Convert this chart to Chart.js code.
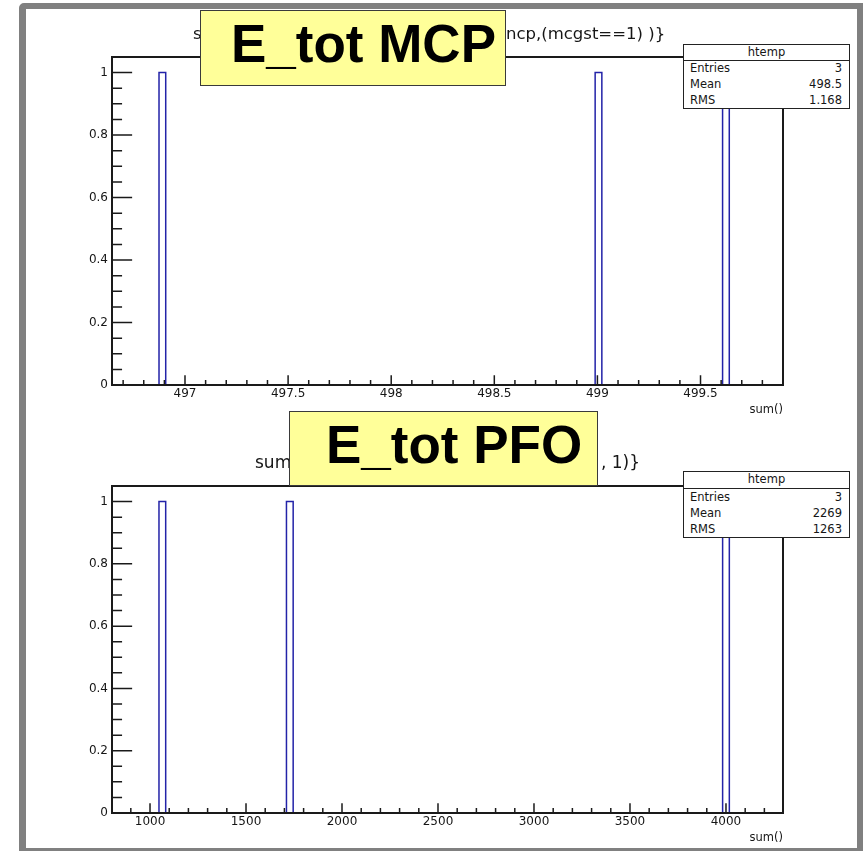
<!DOCTYPE html>
<html>
<head>
<meta charset="utf-8">
<script src="https://cdn.jsdelivr.net/npm/chart.js@4.4.1/dist/chart.umd.min.js"></script>
<style>
html,body{margin:0;padding:0;background:#fff;}
#page{position:relative;width:863px;height:851px;overflow:hidden;background:#fff;}
#border{position:absolute;left:19px;top:3px;width:844px;height:848px;box-sizing:border-box;
  border-style:solid;border-color:#808080;border-width:6px 6px 3px 7px;border-radius:5px 0 0 0;background:#fff;}
canvas{position:absolute;left:0;}
.t{position:absolute;white-space:nowrap;font-family:"DejaVu Sans",sans-serif;color:#161616;}
.stat{position:absolute;box-sizing:border-box;border:1.5px solid #222;background:#fff;
  font-family:"DejaVu Sans",sans-serif;font-size:11.5px;color:#161616;}
.stat .hd{position:absolute;left:0;right:0;top:0;text-align:center;border-bottom:1.5px solid #222;}
.stat .row{position:absolute;left:6px;right:7px;}
.stat .row span{position:absolute;}
.stat .row .v{right:0;}
.yellow{position:absolute;box-sizing:border-box;border:1px solid #3a3a3a;background:#ffff99;}
.yellow span{position:absolute;font-family:"Liberation Sans",Arial,sans-serif;font-weight:bold;
  font-size:53px;line-height:53px;color:#000;white-space:nowrap;}
</style>
</head>
<body>
<div id="page">
  <div id="border"></div>
  <canvas id="c1" width="863" height="425" style="top:0px"></canvas>
  <canvas id="c2" width="863" height="426" style="top:425px"></canvas>
</div>
<script>
// ---------- data ----------
const mcpBinLow = [496.874, 498.989, 499.607];
const mcpCounts = [1, 1, 1];
const mcpBinWidth = 0.0325;
const mcpXRange = [496.646, 499.90];
const mcpXTicks = [497, 497.5, 498, 498.5, 499, 499.5];
const mcpXTickLabels = ['497', '497.5', '498', '498.5', '499', '499.5'];
const mcpXMinorStep = 0.1;

const pfoBinLow = [1046.7, 1710.7, 3982.5];
const pfoCounts = [1, 1, 1];
const pfoBinWidth = 34.95;
const pfoXRange = [802, 4297];
const pfoXTicks = [1000, 1500, 2000, 2500, 3000, 3500, 4000];
const pfoXTickLabels = ['1000', '1500', '2000', '2500', '3000', '3500', '4000'];
const pfoXMinorStep = 100;

const yRange = [0, 1.05];
const yTicks = [0, 0.2, 0.4, 0.6, 0.8, 1];
const yTickLabels = ['0', '0.2', '0.4', '0.6', '0.8', '1'];
const yMinorStep = 0.05;

const statLabels = ['Entries', 'Mean', 'RMS'];
const mcpStatValues = ['3', '498.5', '1.168'];
const pfoStatValues = ['3', '2269', '1263'];
const statName = 'htemp';
const xAxisTitle = 'sum()';
const mcpTitleLeft = 's';
const mcpTitleRight = 'ncp,(mcgst==1) )}';
const pfoTitleLeft = 'sum';
const pfoTitleRight = ', 1)}';
const mcpLabel = 'E_tot MCP';
const pfoLabel = 'E_tot PFO';

// ---------- helpers ----------
function histPoints(lows, w, counts) {
  const pts = [];
  lows.forEach((x0, i) => {
    pts.push({x: x0, y: 0}, {x: x0, y: counts[i]}, {x: x0 + w, y: counts[i]}, {x: x0 + w, y: 0});
    pts.push({x: x0 + w, y: null});
  });
  return pts;
}

const framePlugin = {
  id: 'rootFrame',
  afterDraw(chart, args, opts) {
    const ctx = chart.ctx, a = chart.chartArea;
    const xs = chart.scales.x, ys = chart.scales.y;
    const W = a.right - a.left, H = a.bottom - a.top;
    ctx.save();
    ctx.strokeStyle = '#1a1a1a';
    ctx.lineWidth = 1.5;
    ctx.beginPath();
    const xL = 0.03 * H, yL = 0.03 * W;
    xs.ticks.forEach(t => {
      const p = xs.getPixelForValue(t.value);
      ctx.moveTo(p, a.bottom); ctx.lineTo(p, a.bottom - xL);
    });
    const xStep = opts.xMinor;
    for (let k = Math.ceil(xs.min / xStep); k * xStep <= xs.max; k++) {
      const p = xs.getPixelForValue(k * xStep);
      ctx.moveTo(p, a.bottom); ctx.lineTo(p, a.bottom - xL / 2);
    }
    ys.ticks.forEach(t => {
      const p = ys.getPixelForValue(t.value);
      ctx.moveTo(a.left, p); ctx.lineTo(a.left + yL, p);
    });
    const yStep = opts.yMinor;
    for (let k = Math.ceil(ys.min / yStep); k * yStep <= ys.max + 1e-9; k++) {
      const p = ys.getPixelForValue(k * yStep);
      ctx.moveTo(a.left, p); ctx.lineTo(a.left + yL / 2, p);
    }
    ctx.stroke();
    ctx.lineWidth = 2;
    ctx.strokeRect(a.left, a.top, W, H);
    ctx.restore();
  }
};

function makeChart(id, lows, w, counts, xRange, xTicks, xLabels, xMinor, padTop, padBottom) {
  const tickFont = {family: 'DejaVu Sans', size: 12};
  return new Chart(document.getElementById(id), {
    type: 'line',
    data: {
      datasets: [{
        data: histPoints(lows, w, counts),
        borderColor: '#2323a8',
        borderWidth: 1.5,
        pointRadius: 0,
        fill: false,
        tension: 0,
        spanGaps: false
      }]
    },
    options: {
      responsive: false,
      animation: false,
      devicePixelRatio: 1,
      layout: {padding: {left: 62, right: 80, top: padTop, bottom: padBottom}},
      plugins: {legend: {display: false}, tooltip: {enabled: false},
                rootFrame: {xMinor: xMinor, yMinor: yMinorStep}},
      scales: {
        x: {
          type: 'linear', min: xRange[0], max: xRange[1],
          grid: {display: false, drawTicks: false},
          border: {display: false},
          afterBuildTicks: s => { s.ticks = xTicks.map(v => ({value: v})); },
          afterFit: s => { s.height = 25; s.paddingLeft = 0; s.paddingRight = 0; s.paddingTop = 0; s.paddingBottom = 0; },
          ticks: {font: tickFont, color: '#161616', padding: 2, maxRotation: 0, autoSkip: false,
                  callback: (v, i) => xLabels[i]}
        },
        y: {
          type: 'linear', min: yRange[0], max: yRange[1],
          grid: {display: false, drawTicks: false},
          border: {display: false},
          afterBuildTicks: s => { s.ticks = yTicks.map(v => ({value: v})); },
          afterFit: s => { s.width = 50; s.paddingLeft = 0; s.paddingRight = 0; s.paddingTop = 0; s.paddingBottom = 0; },
          ticks: {font: tickFont, color: '#161616', padding: 4, autoSkip: false,
                  callback: (v, i) => yTickLabels[i]}
        }
      }
    },
    plugins: [framePlugin]
  });
}

makeChart('c1', mcpBinLow, mcpBinWidth, mcpCounts, mcpXRange, mcpXTicks, mcpXTickLabels, mcpXMinorStep, 57, 15);
makeChart('c2', pfoBinLow, pfoBinWidth, pfoCounts, pfoXRange, pfoXTicks, pfoXTickLabels, pfoXMinorStep, 61, 13);

// ---------- overlays (text) ----------
const page = document.getElementById('page');
function addText(txt, left, top, size, extra) {
  const d = document.createElement('div');
  d.className = 't';
  d.textContent = txt;
  d.style.left = left + 'px';
  d.style.top = top + 'px';
  d.style.fontSize = size + 'px';
  d.style.lineHeight = size + 'px';
  if (extra) Object.assign(d.style, extra);
  page.appendChild(d);
  return d;
}
// titles
addText(mcpTitleLeft, 193, 26, 16.5);
addText(mcpTitleRight, 506, 26, 16.5);
addText(pfoTitleLeft, 255, 454, 17);
addText(pfoTitleRight, 601, 454, 17);
// axis titles
addText(xAxisTitle, 0, 404, 11.5, {left: 'auto', right: (863 - 783) + 'px'});
addText(xAxisTitle, 0, 832, 11.5, {left: 'auto', right: (863 - 783) + 'px'});

function addStat(left, top, width, height, headH, values) {
  const box = document.createElement('div');
  box.className = 'stat';
  Object.assign(box.style, {left: left + 'px', top: top + 'px', width: width + 'px', height: height + 'px'});
  const hd = document.createElement('div');
  hd.className = 'hd';
  hd.textContent = statName;
  hd.style.height = (headH - 1.5) + 'px';
  hd.style.lineHeight = (headH - 1.5) + 'px';
  box.appendChild(hd);
  const rowH = (height - headH - 1.5) / statLabels.length;
  statLabels.forEach((lab, i) => {
    const r = document.createElement('div');
    r.className = 'row';
    r.style.top = (headH + i * rowH) + 'px';
    r.style.height = rowH + 'px';
    r.style.lineHeight = rowH + 'px';
    const a = document.createElement('span'); a.textContent = lab; a.style.left = '0';
    const b = document.createElement('span'); b.className = 'v'; b.textContent = values[i];
    r.appendChild(a); r.appendChild(b);
    box.appendChild(r);
  });
  page.appendChild(box);
}
addStat(683, 44, 167, 65, 16, mcpStatValues);
addStat(683, 471, 167, 67, 17, pfoStatValues);

function addYellow(left, top, width, height, txt, textLeft, textTop) {
  const y = document.createElement('div');
  y.className = 'yellow';
  Object.assign(y.style, {left: left + 'px', top: top + 'px', width: width + 'px', height: height + 'px'});
  const s = document.createElement('span');
  s.textContent = txt;
  s.style.left = textLeft + 'px';
  s.style.top = textTop + 'px';
  y.appendChild(s);
  page.appendChild(y);
}
addYellow(200, 10, 306, 76, mcpLabel, 30, 6);
addYellow(289, 411, 309, 75, pfoLabel, 36, 6);
</script>
</body>
</html>
